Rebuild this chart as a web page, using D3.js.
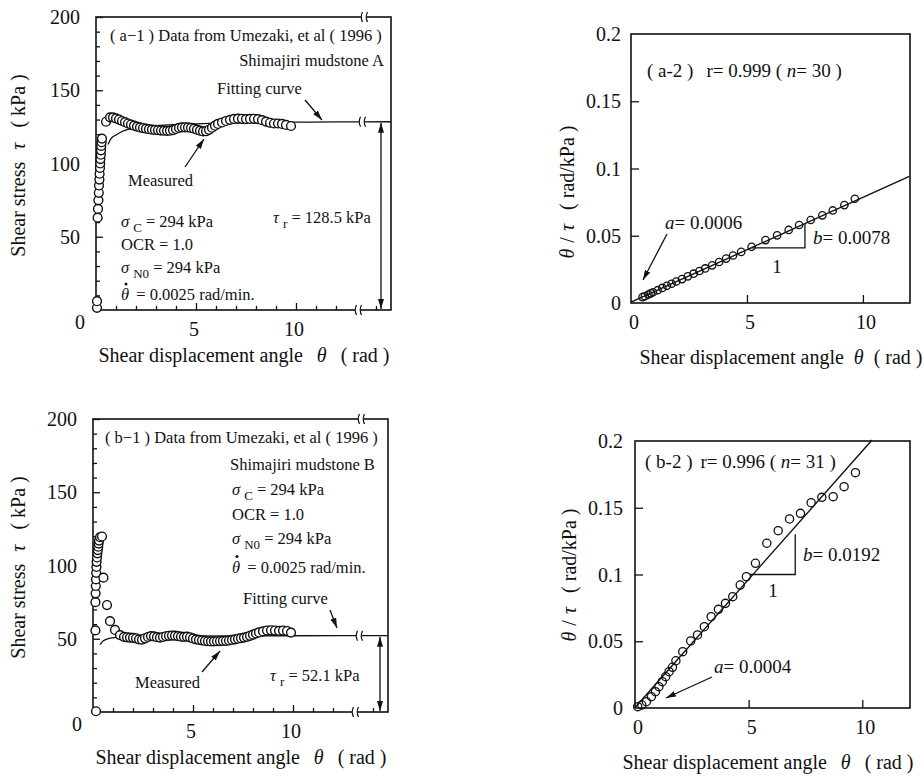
<!DOCTYPE html>
<html>
<head>
<meta charset="utf-8">
<script src="https://cdn.jsdelivr.net/npm/d3@7"></script>
<style>
body{margin:0;background:#fff;}
svg text{font-family:"Liberation Serif","DejaVu Serif","Times New Roman",serif;fill:#111;}
</style>
</head>
<body>
<svg id="chart" width="924" height="782"></svg>
<script>
// values: [theta (rad), tau (kPa)]
var a1Measured = [[0.05,1.5],[0.05,6],[0.08,63],[0.1,69],[0.12,75],[0.14,80],[0.15,85],[0.17,89],[0.18,93],
  [0.2,97],[0.21,100],[0.22,103],[0.24,106],[0.25,109],[0.26,112],[0.28,114.5],[0.3,117],
  [0.5,128.5],[0.7,131.5],[0.85,131.5],[1.0,130.8],[1.15,130],[1.3,129],[1.45,128.2],[1.6,127.3],
  [1.75,126.6],[1.9,125.8],[2.05,125.2],[2.2,124.6],[2.35,124.2],[2.5,123.8],[2.65,123.4],[2.8,123.1],
  [2.95,122.9],[3.1,122.7],[3.25,122.5],[3.4,122.4],[3.55,122.3],[3.7,122.4],[3.85,122.8],[4.0,123.6],
  [4.15,124.3],[4.3,124.6],[4.45,124.7],[4.6,124.6],[4.75,124.3],[4.9,123.8],[5.05,123.1],[5.2,122.4],
  [5.35,121.9],[5.5,122],[5.65,123],[5.8,124.4],[5.95,125.8],[6.1,127],[6.3,128],[6.5,129],[6.7,129.8],
  [6.9,130.4],[7.1,130.6],[7.3,130.5],[7.5,130.3],[7.7,130.4],[7.9,130.5],[8.1,130.3],[8.3,129.6],
  [8.5,128.6],[8.7,127.8],[8.9,127.3],[9.1,127.3],[9.3,127],[9.5,126.3],[9.75,125.6]];
var a1Fit = [[0.6,113],[0.75,117],[1.0,119.5],[1.4,122.5],[2,124.3],[3,125.8],[4,126.6],[5,127.1],
  [6,127.5],[8,127.9],[10,128.2],[12,128.4],[14.75,128.5]];

var b1Measured = [[0.15,0.5],[0.12,55.7],[0.12,75],[0.13,81],[0.14,86],[0.15,90.5],[0.16,95],[0.17,99],
  [0.18,102.5],[0.2,105.5],[0.22,108.3],[0.24,110.5],[0.26,112.8],[0.28,115],[0.3,117],[0.35,119.3],[0.45,119.8],
  [0.52,91.7],[0.7,73],[0.85,62],[1.1,56],[1.35,52.5],
  [1.55,51.3],[1.7,51],[1.85,50.8],[2.0,50.6],[2.15,50.3],[2.3,49.6],[2.45,49.4],[2.6,50.3],[2.75,51.2],
  [2.9,51.8],[3.05,51.6],[3.2,51.1],[3.35,50.8],[3.5,51.2],[3.65,51.7],[3.8,52],[3.95,52.2],[4.1,52.1],
  [4.25,51.8],[4.4,51.4],[4.55,51.3],[4.7,51.4],[4.85,51],[5.0,50.2],[5.15,49.6],[5.3,49.2],[5.45,48.9],
  [5.6,48.5],[5.75,48.3],[5.9,48.2],[6.05,48.2],[6.2,48.3],[6.35,48.4],[6.5,48.5],[6.65,48.6],[6.8,48.8],
  [6.95,49.2],[7.1,49.6],[7.25,50],[7.4,50.4],[7.55,50.8],[7.7,51.3],[7.85,52],[8.0,52.8],[8.15,53.6],
  [8.3,54.3],[8.5,55],[8.7,55.6],[8.9,55.8],[9.1,55.6],[9.3,55.4],[9.5,55.6],[9.7,55.3],[9.9,54.2]];
var b1Fit = [[0.35,46],[0.5,48.5],[0.8,50.2],[1.2,51],[2,51.5],[4,51.8],[7,52],[10,52.05],[14.75,52.1]];

// [theta (rad), theta/tau (rad/kPa)]
var a2Points = [[0.5,0.0044],[0.6,0.0050],[0.75,0.0063],[0.85,0.0072],[0.95,0.0080],[1.15,0.0095],
  [1.35,0.0112],[1.55,0.0128],[1.75,0.0143],[1.95,0.0160],[2.2,0.0178],[2.45,0.0198],[2.7,0.0218],
  [2.95,0.0238],[3.2,0.0257],[3.5,0.0280],[3.8,0.0305],[4.1,0.0330],[4.4,0.0353],[4.75,0.0380],
  [5.2,0.0418],[5.8,0.0468],[6.3,0.0503],[6.8,0.0543],[7.25,0.0580],[7.75,0.0617],[8.25,0.0652],
  [8.7,0.0688],[9.2,0.0728],[9.65,0.0775]];
var a2Line = [[0,0.0006],[12,0.0942]];

var b2Points = [[0.12,0.0010],[0.3,0.0022],[0.5,0.0047],[0.72,0.0085],[0.9,0.0122],[1.05,0.016],
  [1.2,0.0197],[1.35,0.0235],[1.5,0.0272],[1.65,0.0305],[1.8,0.0354],[2.1,0.0422],[2.45,0.0502],
  [2.75,0.0547],[3.05,0.0609],[3.35,0.0684],[3.67,0.0739],[3.98,0.0784],[4.3,0.0834],[4.63,0.0921],
  [4.9,0.0984],[5.3,0.1084],[5.8,0.1234],[6.3,0.1328],[6.8,0.1416],[7.28,0.1458],[7.75,0.1538],
  [8.22,0.1578],[8.72,0.1583],[9.2,0.1658],[9.7,0.1763]];
var b2Line = [[0,0.0004],[10.43,0.2007]];

var stressTicks = [50,100,150,200];
var stressMinor = [10,20,30,40,60,70,80,90,110,120,130,140,160,170,180,190];
var angleTicks = [5,10];
var angleMinor = [1,2,3,4,6,7,8,9,11,12,14];
var ratioTicks = [0,0.05,0.1,0.15,0.2];

var svg = d3.select("#chart");
var ink = "#111";
var serif = "Liberation Serif, DejaVu Serif, serif";
var fsNote = 16.5, fsNote2 = 19, fsTick = 20, fsTitle = 20;

var defs = svg.append("defs");
defs.append("marker").attr("id","ah").attr("viewBox","0 0 10 6")
    .attr("refX",10).attr("refY",3).attr("markerWidth",10).attr("markerHeight",6)
    .attr("markerUnits","userSpaceOnUse").attr("orient","auto-start-reverse")
  .append("path").attr("d","M0,0 L10,3 L0,6 Z").attr("fill",ink);

function label(g, x, y, parts, size, anchor, rot){
    var t = g.append("text").attr("x",x).attr("y",y).attr("font-size",size)
	.attr("font-family",serif).attr("text-anchor",anchor||"start");
    if(rot) t.attr("transform","rotate(-90,"+x+","+y+")");
    parts.forEach(function(p){
	if(typeof p == "string") p = {t:p};
	var s = t.append("tspan").text(p.t);
	if(p.it) s.attr("font-style","italic");
	if(p.dx) s.attr("dx",p.dx);
	if(p.dy) s.attr("dy",p.dy);
	if(p.fs) s.attr("font-size",p.fs);
    });
    return t;
}

function arrow(g, x1, y1, x2, y2, both){
    var l = g.append("line").attr("x1",x1).attr("y1",y1).attr("x2",x2).attr("y2",y2)
	.attr("stroke",ink).attr("stroke-width",1.3).attr("marker-end","url(#ah)");
    if(both) l.attr("marker-start","url(#ah)");
}

// axis break "((" drawn over a horizontal line
function brk(g, x, y){
    g.append("rect").attr("x",x-3).attr("y",y-5).attr("width",6).attr("height",10).attr("fill","#fff");
    [-2.5,2.5].forEach(function(o){
	g.append("path").attr("d","M"+(x+o+1)+","+(y-5)+" Q"+(x+o-1.5)+","+y+" "+(x+o+1)+","+(y+5))
	    .attr("fill","none").attr("stroke",ink).attr("stroke-width",1.2);
    });
}

function inTicks(g, axis, tr){
    g.append("g").attr("transform",tr).call(axis)
	.call(function(s){ s.select(".domain").remove(); s.selectAll("line").attr("stroke",ink).attr("stroke-width",1.3); });
}

function paramBlock(g, x, y0, step){
    label(g, x, y0, [{t:"σ",it:true},{t:"C",dx:4,dy:5,fs:13},{t:" = 294 kPa",dy:-5}], fsNote);
    label(g, x, y0+step, ["OCR = 1.0"], fsNote);
    label(g, x, y0+2*step, [{t:"σ",it:true},{t:"N0",dx:4,dy:5,fs:13},{t:" = 294 kPa",dy:-5}], fsNote);
    label(g, x, y0+3*step+4, [{t:"θ",it:true},{t:"  = 0.0025 rad/min.",dx:3}], fsNote);
    g.append("circle").attr("cx",x+5).attr("cy",y0+3*step-12).attr("r",1.5).attr("fill",ink);
}

function stressPanel(p){
    var g = svg.append("g");
    var x = d3.scaleLinear().domain([0,14.75]).range([p.l,p.r]);
    var y = d3.scaleLinear().domain([0,200]).range([p.b,p.t]);

    inTicks(g, d3.axisBottom(x).tickValues(angleMinor).tickSize(-4).tickFormat(""), "translate(0,"+p.b+")");
    inTicks(g, d3.axisBottom(x).tickValues(angleTicks).tickSize(-7).tickFormat(""), "translate(0,"+p.b+")");
    inTicks(g, d3.axisLeft(y).tickValues(stressMinor).tickSize(-4).tickFormat(""), "translate("+p.l+",0)");
    inTicks(g, d3.axisLeft(y).tickValues(stressTicks).tickSize(-7).tickFormat(""), "translate("+p.l+",0)");

    g.append("rect").attr("x",p.l).attr("y",p.t).attr("width",p.r-p.l).attr("height",p.b-p.t)
	.attr("fill","none").attr("stroke",ink).attr("stroke-width",1.6);

    var line = d3.line().x(function(d){return x(d[0]);}).y(function(d){return y(d[1]);}).curve(d3.curveMonotoneX);
    g.append("path").datum(p.fit).attr("d",line).attr("fill","none").attr("stroke",ink).attr("stroke-width",1.3);

    g.selectAll("circle.m").data(p.measured).enter().append("circle").attr("class","m")
	.attr("cx",function(d){return x(d[0]);}).attr("cy",function(d){return y(d[1]);})
	.attr("r",4.4).attr("fill","#fff").attr("stroke",ink).attr("stroke-width",1.4);

    brk(g, x(13.4), p.t);
    brk(g, x(13.3), y(p.fit[p.fit.length-1][1]));
    brk(g, x(13.1), p.b);

    arrow(g, x(p.arrowX), y(p.fit[p.fit.length-1][1])+1, x(p.arrowX), p.b-1, true);

    stressTicks.forEach(function(v){
	label(g, p.l-16, y(v)+7, [String(v)], fsTick, "end");
    });
    label(g, p.l-16, p.b+19, ["0"], fsTick, "middle");
    angleTicks.forEach(function(v){
	label(g, x(v)-2, p.b+26, [String(v)], fsTick, "middle");
    });
    label(g, p.l+148, p.b+52, ["Shear displacement angle",{t:"θ",it:true,dx:14},{t:"( rad )",dx:14}], fsTitle, "middle");
    label(g, 25, (p.t+p.b)/2+2, ["Shear stress",{t:"τ",it:true,dx:12},{t:"( kPa )",dx:15}], fsTitle, "middle", true);
    return {g:g, x:x, y:y};
}

function ratioPanel(p){
    var g = svg.append("g");
    var x = d3.scaleLinear().domain([0,p.xmax]).range([p.l,p.r]);
    var y = d3.scaleLinear().domain([0,0.2]).range([p.b,p.t]);

    inTicks(g, d3.axisBottom(x).tickValues(angleTicks).tickSize(-8).tickFormat(""), "translate(0,"+p.b+")");
    inTicks(g, d3.axisLeft(y).tickValues(ratioTicks.slice(1,4)).tickSize(-8).tickFormat(""), "translate("+p.l+",0)");

    g.append("rect").attr("x",p.l).attr("y",p.t).attr("width",p.r-p.l).attr("height",p.b-p.t)
	.attr("fill","none").attr("stroke",ink).attr("stroke-width",1.6);

    var line = d3.line().x(function(d){return x(d[0]);}).y(function(d){return y(d[1]);});
    g.append("path").datum(p.line).attr("d",line).attr("fill","none").attr("stroke",ink).attr("stroke-width",1.4);

    g.selectAll("circle.m").data(p.points).enter().append("circle").attr("class","m")
	.attr("cx",function(d){return x(d[0]);}).attr("cy",function(d){return y(d[1]);})
	.attr("r",p.rad).attr("fill","none").attr("stroke",ink).attr("stroke-width",1.3);

    // slope triangle
    var t = p.tri;
    g.append("path").attr("d","M"+x(t[0])+","+y(t[2])+" H"+x(t[1])+" V"+y(t[3]))
	.attr("fill","none").attr("stroke",ink).attr("stroke-width",1.3);

    ratioTicks.forEach(function(v){
	label(g, p.l-p.yoff, y(v)+7, [String(v)], fsTick, "end");
    });
    [0].concat(angleTicks).forEach(function(v){
	label(g, x(v)+3, p.b+p.xoff, [String(v)], fsTick, "middle");
    });
    label(g, p.tx, p.ty, ["Shear displacement angle",{t:"θ",it:true,dx:p.tg},{t:"( rad )",dx:p.tg}], fsTitle, "middle");
    label(g, p.yx, p.yy, [{t:"θ",it:true},{t:"/",dx:6},{t:"τ",it:true,dx:6},{t:"( rad/kPa )",dx:14}], fsTitle, "middle", true);
    return {g:g, x:x, y:y};
}

// (a-1)
var A1 = stressPanel({l:96, t:17, r:391, b:310, measured:a1Measured, fit:a1Fit, arrowX:14.25});
label(A1.g, 110, 41, ["( a−1 ) Data from Umezaki, et al ( 1996 )"], fsNote);
label(A1.g, 384, 66, ["Shimajiri mudstone  A"], fsNote, "end");
label(A1.g, 217, 94, ["Fitting curve"], fsNote);
arrow(A1.g, 305, 100, 322, 120);
label(A1.g, 128, 186, ["Measured"], fsNote);
arrow(A1.g, 185, 167, 204, 139);
paramBlock(A1.g, 121, 227, 23);
label(A1.g, 273, 223, [{t:"τ",it:true},{t:"r",dx:4,dy:5,fs:13},{t:" = 128.5 kPa",dy:-5}], fsNote);

// (b-1)
var B1 = stressPanel({l:93, t:419, r:388, b:712, measured:b1Measured, fit:b1Fit, arrowX:14.35});
label(B1.g, 105, 443, ["( b−1 ) Data from Umezaki, et al ( 1996 )"], fsNote);
label(B1.g, 230, 470, ["Shimajiri mudstone  B"], fsNote);
paramBlock(B1.g, 232, 495, 24.5);
label(B1.g, 243, 604, ["Fitting curve"], fsNote);
arrow(B1.g, 330, 610, 337, 628);
label(B1.g, 135, 688, ["Measured"], fsNote);
arrow(B1.g, 202, 672, 220, 651);
label(B1.g, 270, 681, [{t:"τ",it:true},{t:"r",dx:4,dy:5,fs:13},{t:" = 52.1 kPa",dy:-5}], fsNote);

// (a-2)
var A2 = ratioPanel({l:631, t:34, r:910, b:303, xmax:12.03, points:a2Points, line:a2Line, rad:3.7,
    tri:[5.2,7.5,0.041,0.0589], yoff:10, xoff:26, tx:781, ty:364, tg:10, yx:574, yy:192});
label(A2.g, 647, 77, ["( a-2 )",{t:"r= 0.999 (",dx:13},{t:" n",it:true},"= 30 )"], fsNote2);
label(A2.g, 665, 229, [{t:"a",it:true},"= 0.0006"], fsNote2);
arrow(A2.g, 667, 234, 643, 280);
label(A2.g, 813, 244, [{t:"b",it:true},"= 0.0078"], fsNote2);
label(A2.g, 777, 273, ["1"], fsNote2, "middle");

// (b-2)
var B2 = ratioPanel({l:635, t:441, r:910, b:708, xmax:12.1, points:b2Points, line:b2Line, rad:4.1,
    tri:[5.05,7.05,0.1,0.1302], yoff:12, xoff:26, tx:768, ty:769, tg:14, yx:576, yy:575});
label(B2.g, 645, 468, ["( b-2 )",{t:"r= 0.996 (",dx:8},{t:" n",it:true},"= 31 )"], fsNote2);
label(B2.g, 803, 561, [{t:"b",it:true},"= 0.0192"], fsNote2);
label(B2.g, 773, 597, ["1"], fsNote2, "middle");
label(B2.g, 714, 673, [{t:"a",it:true},"= 0.0004"], fsNote2);
arrow(B2.g, 712, 677, 666, 698);
</script>
</body>
</html>
